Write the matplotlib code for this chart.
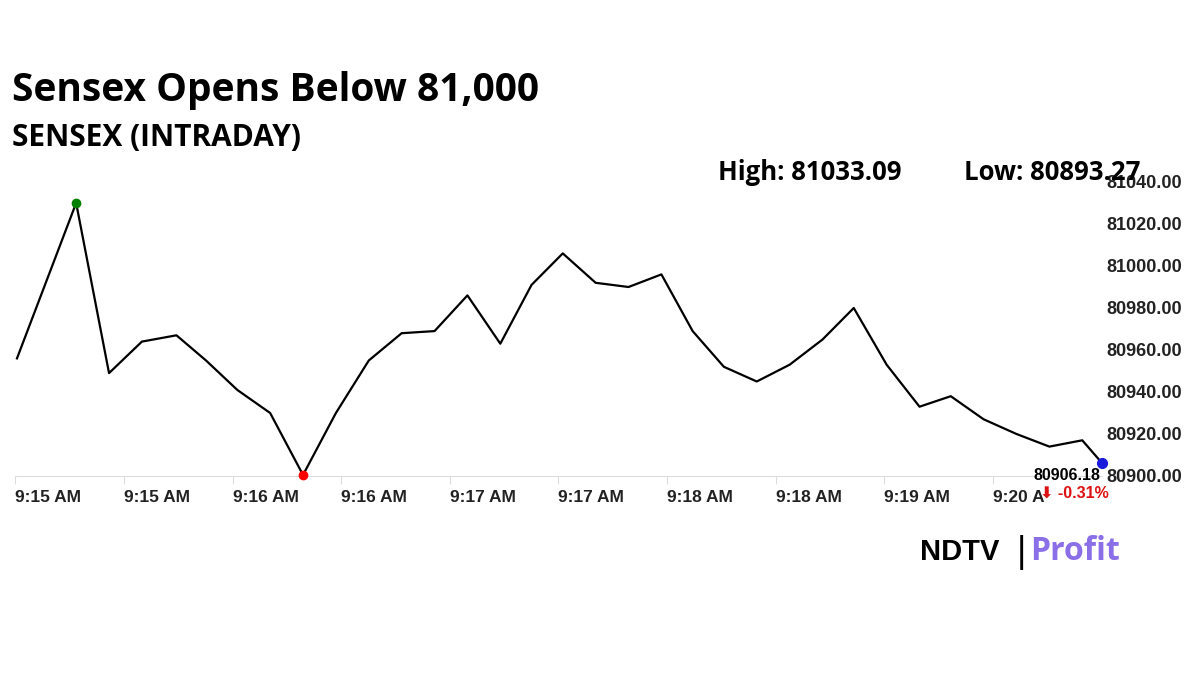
import matplotlib
matplotlib.use("Agg")
import matplotlib.pyplot as plt
import numpy as np

idx = [0, 1.8, 2.8, 3.8, 4.85, 5.75, 6.7, 7.7, 8.7, 9.7, 10.7, 11.7, 12.7, 13.7, 14.7, 15.65, 16.6, 17.6, 18.6, 19.6,
       20.55, 21.5, 22.5, 23.5, 24.5, 25.45, 26.45, 27.45, 28.4, 29.4, 30.4, 31.4, 32.4, 33.0]
values = [80956, 81030, 80949, 80964, 80967, 80955, 80941, 80930, 80900.5, 80930, 80955, 80968, 80969, 80986,
          80963, 80991, 81006, 80992, 80990, 80996, 80969, 80952, 80945, 80953, 80965, 80980, 80953, 80933,
          80938, 80927, 80920, 80914, 80917, 80906.18]
tick_pos = [-0.06, 3.25, 6.56, 9.87, 13.18, 16.45, 19.76, 23.07, 26.38, 29.69]
tick_labels = ["9:15 AM", "9:15 AM", "9:16 AM", "9:16 AM", "9:17 AM", "9:17 AM", "9:18 AM", "9:18 AM", "9:19 AM", "9:20 A"]
yticks = [80900, 80920, 80940, 80960, 80980, 81000, 81020, 81040]

fig = plt.figure(figsize=(12, 6.75), dpi=100)
ax = fig.add_axes([15/1200, 1-476/675, (1102-15)/1200, (476-182)/675])
ax.plot(idx, values, color="black", lw=1.6, clip_on=False)
ax.plot(idx[1], values[1], "o", color="green", ms=6, clip_on=False, zorder=5)
ax.plot(idx[8], values[8], "o", color="red", ms=6, clip_on=False, zorder=5)
ax.plot(idx[-1], values[-1], "o", color="#1a1adb", ms=7, clip_on=False, zorder=5)
ax.set_xlim(0, 33)
ax.set_ylim(80900, 81040)
for s in ["top", "left", "right"]:
    ax.spines[s].set_visible(False)
ax.spines["bottom"].set_color("#dddddd")
ax.yaxis.tick_right()
ax.set_yticks(yticks)
ax.set_yticklabels([f"{v:.2f}" for v in yticks], fontsize=13, fontweight="bold", color="#222222", family="Liberation Sans")
ax.tick_params(axis="y", length=0, pad=3)
ax.set_xticks(tick_pos)
ax.set_xticklabels(tick_labels, fontsize=12.5, fontweight="bold", color="#222222", family="Liberation Sans", ha="left")
ax.tick_params(axis="x", length=6, color="#dddddd", pad=4)

fig.text(12/1200, 1-90/675, "Sensex Opens Below 81,000", fontsize=28, fontweight="bold", family="Open Sans", va="center")
fig.text(12/1200, 1-138/675, "SENSEX (INTRADAY)", fontsize=21.5, fontweight="bold", family="Open Sans", va="center")
fig.text(718/1200, 1-173/675, "High: 81033.09", fontsize=18.5, fontweight="bold", family="Open Sans", va="center")
fig.text(964/1200, 1-173/675, "Low: 80893.27", fontsize=18.5, fontweight="bold", family="Open Sans", va="center")
fig.text(1100/1200, 1-476/675, "80906.18", fontsize=11.5, fontweight="bold", family="Liberation Sans", ha="right", va="center")
fig.text(1040/1200, 1-493/675, "\u2b07 -0.31%", fontsize=11.5, fontweight="bold", color="#dd1111", family=["Liberation Sans", "DejaVu Sans"], va="center")
fig.text(920/1200, 1-552/675, "NDTV", fontsize=21, fontweight="black", family="Liberation Sans", va="center")
fig.text(1017/1200, 1-552/675, "|", fontsize=26, family="Liberation Sans", va="center")
fig.text(1030/1200, 1-552/675, "Profit", fontsize=23, fontweight="bold", color="#8a6fe8", family="Open Sans", va="center")
fig.savefig("out.png", dpi=100, facecolor="white")
